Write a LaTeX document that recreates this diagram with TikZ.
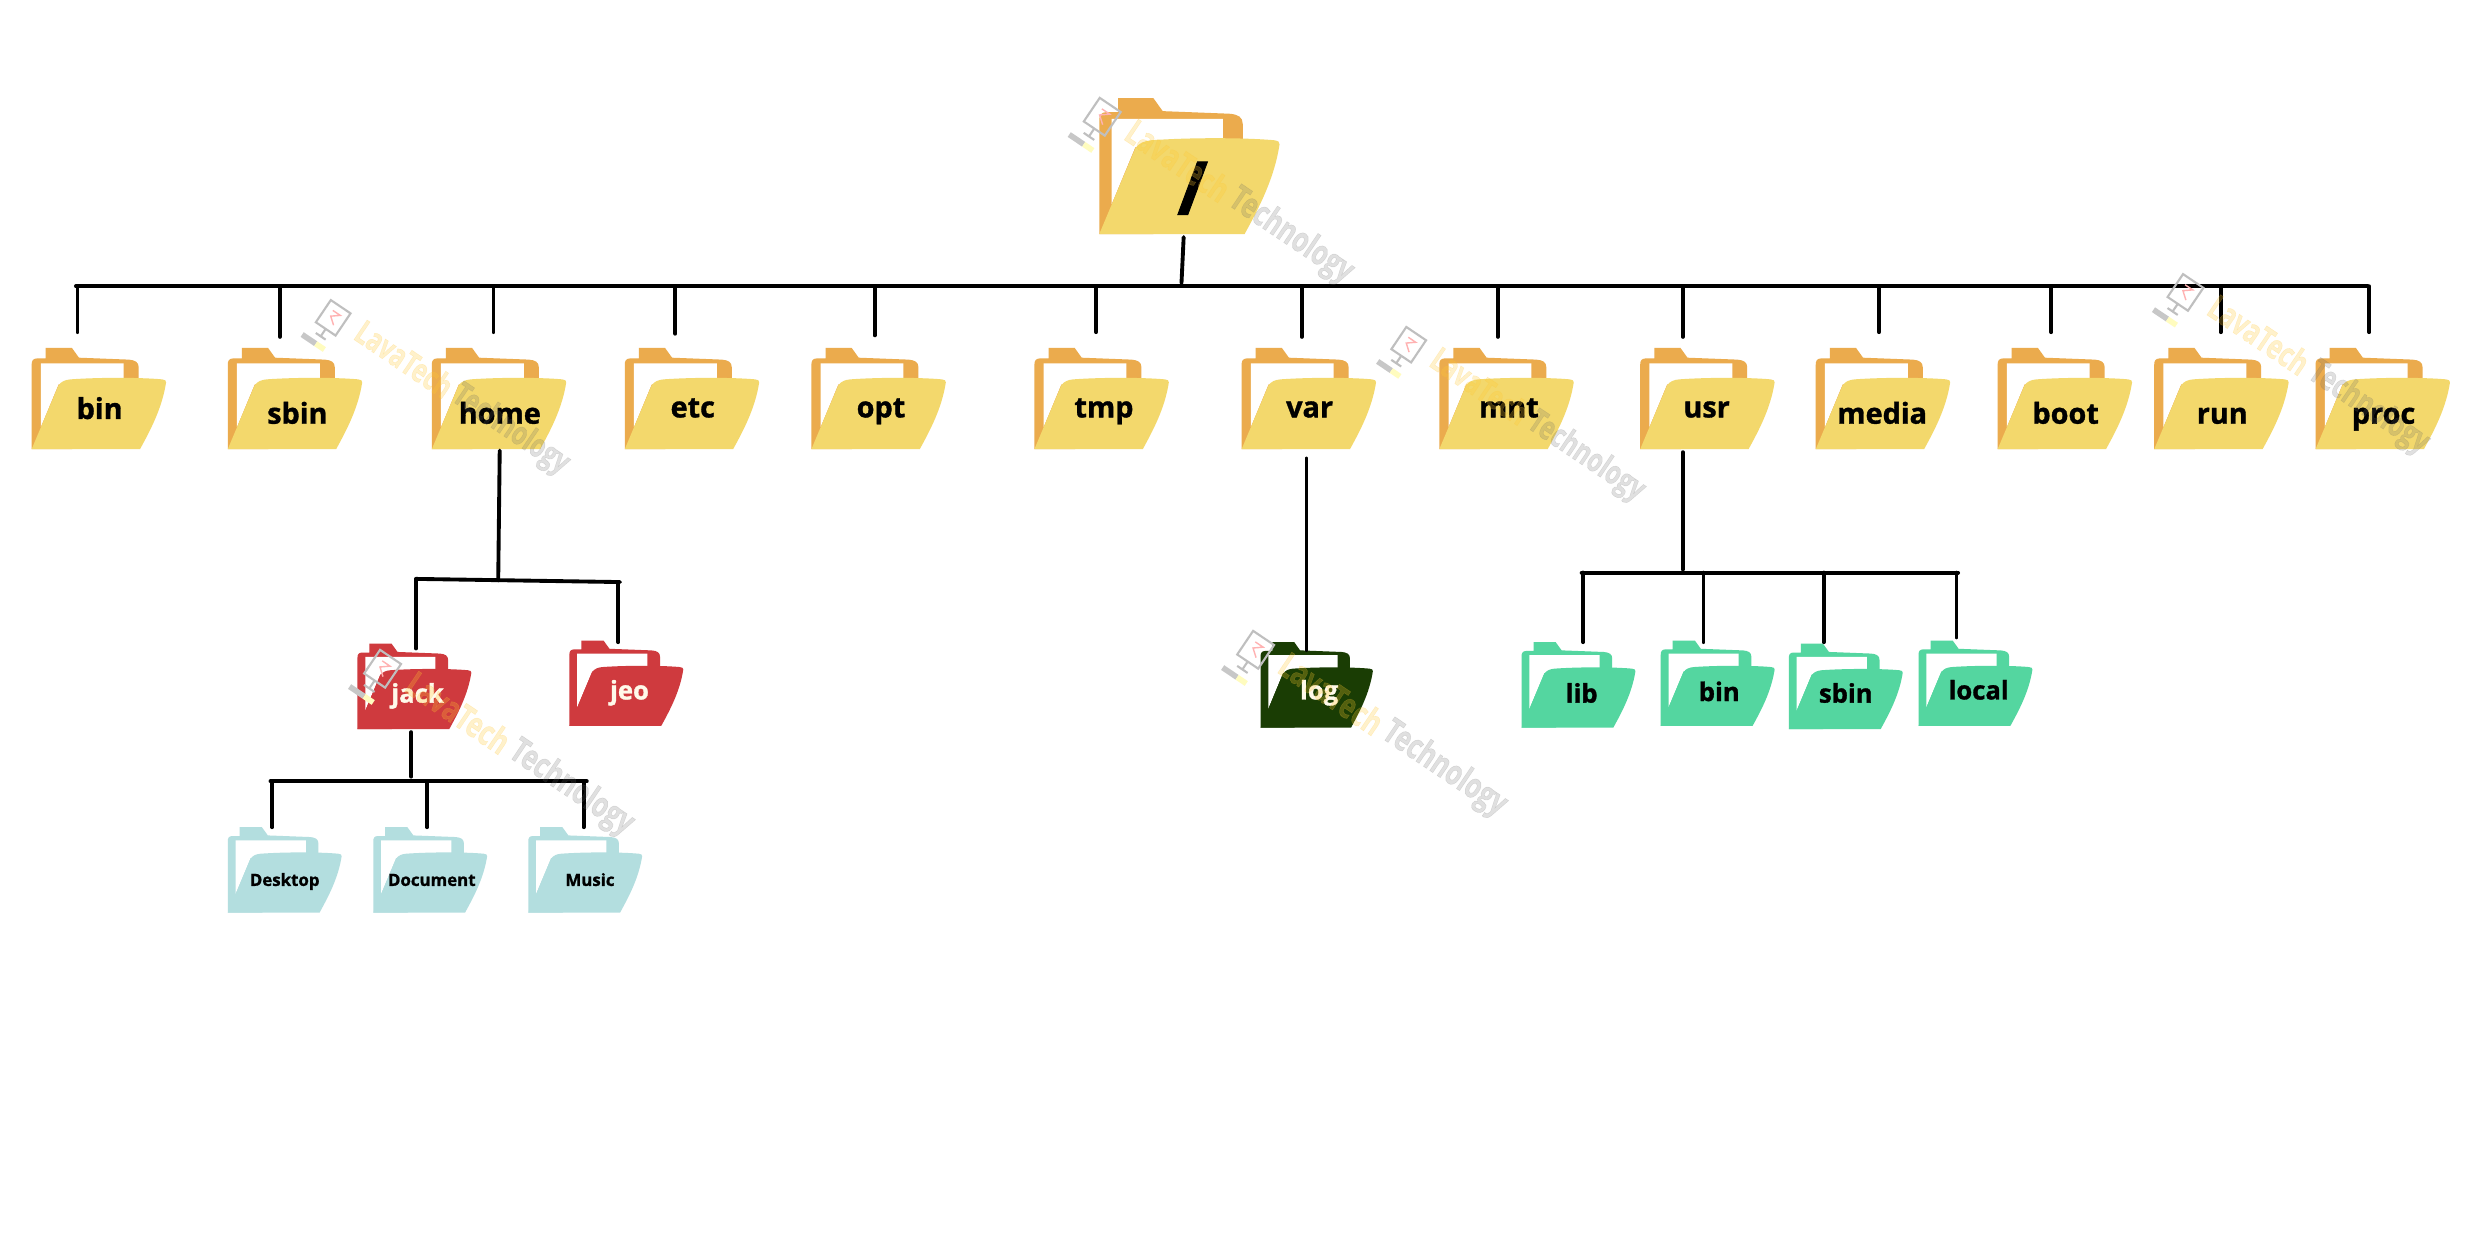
\documentclass[tikz,border=0pt]{standalone}
\usepackage{fontspec}
\setmainfont{Open Sans}[BoldFeatures={FakeBold=1.2}]
\usepackage{tikz}
\usetikzlibrary{calc}
\definecolor{orangedos}{HTML}{EBAB4D}
\definecolor{jaunedos}{HTML}{F3D86C}
\definecolor{rougedos}{HTML}{CF3A3E}
\definecolor{vertdos}{HTML}{54D6A0}
\definecolor{sombredos}{HTML}{1A3D04}
\definecolor{bleudos}{HTML}{B3DEDF}
\definecolor{creme}{HTML}{FFF9EA}
\definecolor{lavajaune}{HTML}{FFC933}
\newcommand{\unite}{0.015816cm}

\begin{document}
\begin{tikzpicture}[x=0.015816cm,y=-0.015816cm]
% définition des paramètres
\tikzstyle lien=[color=black,line width=1.1pt,line cap=round]
\tikzstyle cadre=[inner sep=0pt,anchor=north west]
\tikzstyle etiquette=[inner sep=0pt,text height=6.2pt,text depth=0pt,font=\bfseries\fontsize{8.2}{10}\selectfont]
\tikzstyle moyenne=[inner sep=0pt,text height=5.6pt,text depth=0pt,font=\bfseries\fontsize{7.3}{9}\selectfont]
\tikzstyle petite=[inner sep=0pt,text height=3.7pt,text depth=0pt,font=\bfseries\fontsize{4.8}{6}\selectfont]
\tikzstyle filitexte=[inner sep=0pt,anchor=west,transform shape,xscale=0.72,font=\bfseries\fontsize{10}{12}\selectfont]
% un dossier : nom, x, y, largeur, hauteur, couleur du fond, couleur de devant
\newcommand{\dossier}[7]{
\node[cadre,minimum width=#4*\unite,minimum height=#5*\unite] (#1) at (#2,#3) {};
\begin{scope}[shift={(#2,#3)},xscale=#4,yscale=#5]
\fill[#6] (0,1)--(0,0.165) .. controls (0,0.125) and (0.01,0.105) .. (0.04,0.103)--(0.105,0.103)--(0.105,0)--(0.30,0)--(0.352,0.096)--(0.722,0.115) .. controls (0.77,0.12) and (0.796,0.14) .. (0.796,0.19)--(0.796,0.5)--(0.3,1)--cycle;
\fill[white] (0.0685,0.153)--(0.685,0.153)--(0.685,0.36)--(0.2,0.36)--(0.0685,0.78)--cycle;
\fill[#7] (0,1)--(0.806,1) .. controls (0.88,0.82) and (0.97,0.6) .. (1,0.34) .. controls (1.003,0.32) and (0.99,0.315) .. (0.97,0.31) .. controls (0.8,0.29) and (0.5,0.29) .. (0.29,0.31) .. controls (0.25,0.315) and (0.22,0.33) .. (0.2,0.37)--cycle;
\end{scope}
}
% le filigrane : position du petit écran et échelle
\newcommand{\filigrane}[3]{
\begin{scope}[shift={(#1,#2)},rotate=-34,scale=#3]
\draw[black!25,semithick] (-6,-13) rectangle (10,5);
\draw[red!30] (-1,-8)--(5,-8)--(0,-4)--(5,0);
\draw[black!25,semithick] (2,5)--(2,11) (-2,11)--(6,11);
\draw[black!22,line width=1.6pt] (-9,17)--(2,17);
\draw[yellow!25,line width=1.6pt] (2,17)--(9,17);
\node[filitexte,text=lavajaune,text opacity=0.25] (lava#1) at (20,-8) {LavaTech};
\node[filitexte,text=black!60,text opacity=0.2] (tech#1) at (98,-8) {Technology};
\end{scope}
}

\useasboundingbox (0,0) rectangle (1568,784);
\fill[white] (0,0) rectangle (1568,784);

% la racine
\dossier{root}{695}{62}{114}{86}{orangedos}{jaunedos}
\node[inner sep=0pt,font=\bfseries\fontsize{21}{24}\selectfont] (roottxt) at (754,119) {/};

% les dossiers jaunes
\foreach \n/\x/\tx/\ty in {bin/20/63/258,sbin/144/188/261,home/273/316/261,etc/395/438/257,opt/513/557/257,tmp/654/698/257,var/785/828/257,mnt/910/954/257,usr/1037/1079/257,media/1148/1190/261,boot/1263/1306/261,run/1362/1405/261,proc/1464/1507/261}{
    \dossier{\n}{\x}{220}{85}{64}{orangedos}{jaunedos}
    \node[etiquette] (\n txt) at (\tx,\ty) {\n};
}
% les dossiers rouges et le sombre
\dossier{jack}{226}{407}{72}{54}{rougedos}{rougedos}
\node[moyenne,text=creme] (jacktxt) at (264,438) {jack};
\dossier{jeo}{360}{405}{72}{54}{rougedos}{rougedos}
\node[moyenne,text=creme] (jeotxt) at (398,436) {jeo};
\dossier{log}{797}{406}{71}{54}{sombredos}{sombredos}
\node[moyenne,text=creme] (logtxt) at (834,436) {log};
% les dossiers verts
\foreach \n/\t/\x/\y/\tx/\ty in {lib/lib/962/406/1000/438,ubin/bin/1050/405/1087/437,usbin/sbin/1131/407/1167/438,local/local/1213/405/1251/436}{
    \dossier{\n}{\x}{\y}{72}{54}{vertdos}{vertdos}
    \node[moyenne] (\n txt) at (\tx,\ty) {\t};
}
% les dossiers bleus
\foreach \n/\t/\x/\tx/\ty in {desktop/Desktop/144/180/556,document/Document/236/273/556,music/Music/334/373/556}{
    \dossier{\n}{\x}{523}{72}{54}{bleudos}{bleudos}
    \node[petite] (\n txt) at (\tx,\ty) {\t};
}

% le premier niveau
\coordinate (busg) at (48,181);
\coordinate (busd) at (1497,181);
\coordinate (pracine) at (747,179);
\draw[lien] (busg)--(busd);
\draw[lien,shorten <=1*\unite] ($(root.south west)!0.465!(root.south east)$)--(pracine);
\foreach \n/\bx/\g in {bin/49/10,sbin/177/7,home/312/10,etc/427/9,opt/553/8,tmp/693/10,var/823/7,mnt/947/7,usr/1064/7,media/1188/10,boot/1297/10,run/1404/10,proc/1498/10}{
    \coordinate (p\n) at (\bx,181);
    \draw[lien,shorten >=\g*\unite] (p\n)--(\n.north -| p\n);
}
% sous home
\coordinate (hg) at (263,366);
\coordinate (hd) at (392,368);
\coordinate (hm) at (315,367);
\draw[lien] (hg)--(hd);
\draw[lien] (home.south)--(hm);
\draw[lien,shorten >=-3*\unite] (hg)--(jack.north -| hg);
\coordinate (hj) at (391,368);
\draw[lien,shorten >=-1*\unite] (hj)--(jeo.north -| hj);
% sous jack
\coordinate (jg) at (171,494);
\coordinate (jd) at (371,494);
\coordinate (jm) at (260,491);
\draw[lien] (jg)--(jd);
\draw[lien,shorten <=1*\unite] (jack.south -| jm)--(jm);
\foreach \n/\bx in {desktop/172,document/270,music/369}{
    \coordinate (p\n) at (\bx,494);
    \draw[lien] (p\n)--(\n.north -| p\n);
}
% sous var
\coordinate (plog) at (826,350);
\draw[lien,shorten <=5*\unite,shorten >=-5*\unite] (var.south -| plog)--(log.north -| plog);
% sous usr
\coordinate (ug) at (1000,362);
\coordinate (ud) at (1238,362);
\coordinate (um) at (1064,360);
\draw[lien] (ug)--(ud);
\draw[lien,shorten <=1*\unite] (usr.south -| um)--(um);
\foreach \n/\bx/\g in {lib/1001/0,ubin/1077/-1,usbin/1153/1,local/1237/2}{
    \coordinate (p\n) at (\bx,362);
    \draw[lien,shorten >=\g*\unite] (p\n)--(\n.north -| p\n);
}

% les filigranes
\foreach \a/\b/\s in {693/76/1,207/203/0.94,887/220/0.94,238/425/1,790/413/1,1378/187/0.97}{
    \filigrane{\a}{\b}{\s}
}
\end{tikzpicture}
\end{document}
